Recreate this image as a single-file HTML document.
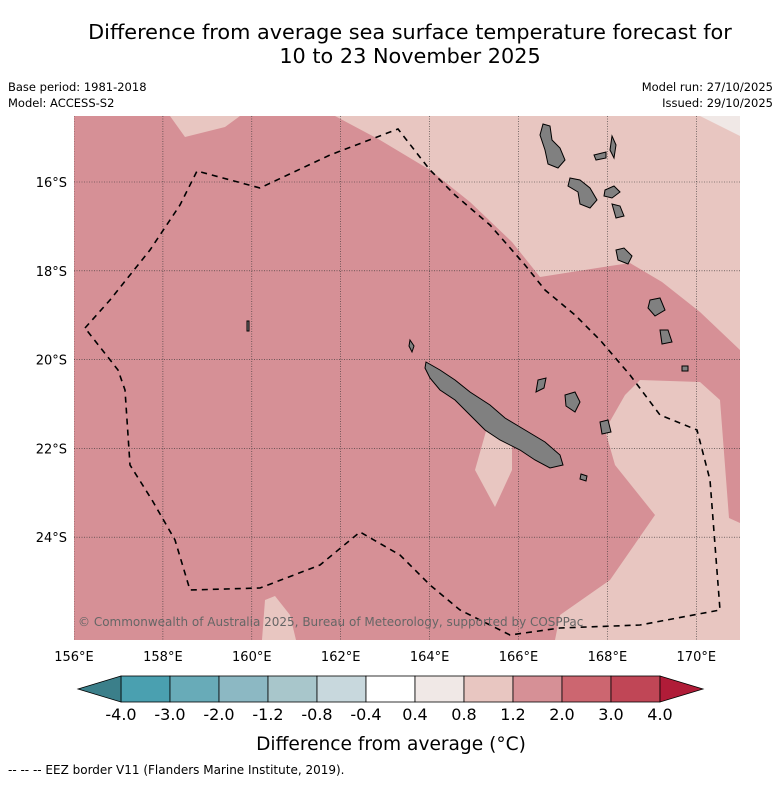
<!DOCTYPE html>
<html><head><meta charset="utf-8"><style>
body{margin:0;background:#fff;font-family:"Liberation Sans","DejaVu Sans",sans-serif;}
svg text{font-family:"DejaVu Sans","Liberation Sans",sans-serif;}
</style></head><body>
<svg id="c" width="781" height="781" viewBox="0 0 781 781" xmlns="http://www.w3.org/2000/svg">
<text x="410" y="39" font-size="20.8" text-anchor="middle">Difference from average sea surface temperature forecast for</text>
<text x="410" y="63" font-size="20.8" text-anchor="middle">10 to 23 November 2025</text>
<text x="8" y="91" font-size="11.5">Base period: 1981-2018</text>
<text x="8" y="107" font-size="11.5">Model: ACCESS-S2</text>
<text x="773" y="91" font-size="11.5" text-anchor="end">Model run: 27/10/2025</text>
<text x="773" y="107" font-size="11.5" text-anchor="end">Issued: 29/10/2025</text>
<defs><clipPath id="mc"><rect x="74" y="116" width="666" height="524"/></clipPath></defs>
<g clip-path="url(#mc)">
<rect x="74" y="116" width="666" height="524" fill="#d69096"/>
<polygon points="170,116 185,137 225,127 240,116" fill="#e8c6c1"/>
<polygon points="335,116 740,116 740,350 700,312 662,282 630,263 610,266 540,277 512,242 470,202 430,170 380,140" fill="#e8c6c1"/>
<polygon points="700,116 740,116 740,136" fill="#f0e8e6"/>
<polygon points="740,523 729,518 720,400 700,382 640,380 625,395 605,430 615,465 655,515 610,580 560,615 555,640 740,640" fill="#e8c6c1"/>
<polygon points="475,470 492,410 512,425 512,470 495,507" fill="#e8c6c1"/>
<polygon points="262,640 265,600 275,596 290,615 296,640" fill="#e8c6c1"/>
<g stroke="#333" stroke-width="0.6" stroke-dasharray="1,1.5" id="grid"></g>
<g fill="#808080" stroke="#000" stroke-width="1">
<polygon points="426,362 440,370 455,380 470,392 490,405 505,418 525,430 545,442 560,455 563,465 550,468 535,460 520,450 500,440 485,430 470,415 455,400 440,390 430,378 425,368"/>
<polygon points="410,340 414,346 412,352 409,346"/>
<polygon points="581,474 587,476 586,481 580,479"/>
<polygon points="538,380 546,378 544,388 536,392"/>
<polygon points="565,395 575,392 580,402 575,412 566,406"/>
<polygon points="600,422 608,420 611,432 602,434"/>
<polygon points="543,124 550,126 552,140 560,148 565,160 558,168 548,164 545,150 540,135"/>
<polygon points="612,136 616,145 614,158 610,150"/>
<polygon points="594,155 606,152 606,158 596,160"/>
<polygon points="570,178 580,180 590,188 597,200 590,208 580,204 578,192 568,186"/>
<polygon points="605,190 614,186 620,192 612,198 604,196"/>
<polygon points="612,204 620,206 624,216 616,218"/>
<polygon points="616,250 624,248 632,256 628,264 618,260"/>
<polygon points="650,300 660,298 665,310 655,316 648,308"/>
<polygon points="660,330 668,330 672,342 662,344"/>
<polygon points="682,366 688,366 688,371 682,371"/>
<polygon points="247,321 249,321 249,331 247,331"/>
</g>
<polyline fill="none" stroke="#000" stroke-width="1.6" stroke-dasharray="6,5" points="85,328 110,300 150,250 180,205 197,171 260,188 330,155 398,129 430,170 455,195 490,225 525,265 545,290 575,315 600,340 630,375 660,415 697,430 710,480 720,610 640,625 560,628 510,635 460,610 430,585 400,555 360,532 320,565 260,588 190,590 175,540 152,500 130,465 125,390 118,370 85,328"/>
<text x="78" y="626" font-size="12" fill="#666">© Commonwealth of Australia 2025, Bureau of Meteorology, supported by COSPPac</text>
</g>
<g id="axes"></g>
<g id="cbar"></g>
<text x="391" y="750" font-size="18.6" text-anchor="middle">Difference from average (°C)</text>
<text x="8" y="774" font-size="12">--  --  -- EEZ border V11 (Flanders Marine Institute, 2019).</text>
</svg>
<script>
const lonTicks=[156,158,160,162,164,166,168,170];
const latTicks=[16,18,20,22,24];
const levels=[-4.0,-3.0,-2.0,-1.2,-0.8,-0.4,0.4,0.8,1.2,2.0,3.0,4.0];
const levelColors=["#4aa0b0","#68abb8","#8cb8c3","#a8c6cb","#c8d8dd","#ffffff","#f0e8e6","#e8c6c1","#d69096","#cc6670","#c04656"];
const NS="http://www.w3.org/2000/svg";
const x=lon=>74+(lon-156)*44.45;
const y=lat=>182+(lat-16)*44.4;
function mk(t,a,p){const e=document.createElementNS(NS,t);for(const k in a)e.setAttribute(k,a[k]);p.appendChild(e);return e;}
const grid=document.getElementById('grid'),axes=document.getElementById('axes'),cb=document.getElementById('cbar');
lonTicks.forEach(l=>{
 const ln=mk('line',{x1:x(l),x2:x(l),y1:116,y2:640},grid);
 
 
 const t=mk('text',{x:x(l),y:661,'font-size':13,'text-anchor':'middle'},axes);
 t.textContent=l+'°E';
 
 
});
latTicks.forEach(l=>{
 const ln=mk('line',{x1:74,x2:740,y1:y(l),y2:y(l)},grid);
 
 
 const t=mk('text',{x:67,y:y(l)+5,'font-size':13,'text-anchor':'end'},axes);
 t.textContent=l+'°S';
 
 
});
const cx0=121,cw=49,cy=676,ch=26;
levelColors.forEach((c,i)=>{
 const r=mk('rect',{x:cx0+i*cw,y:cy,width:cw,height:ch,fill:c,stroke:'#000','stroke-width':0.8},cb);
 
 
});
const lt=mk('polygon',{points:`${cx0},${cy} 78,${cy+ch/2} ${cx0},${cy+ch}`,fill:'#3b7f8a',stroke:'#000','stroke-width':0.8},cb);


const xe=cx0+levelColors.length*cw;
const rt=mk('polygon',{points:`${xe},${cy} 703,${cy+ch/2} ${xe},${cy+ch}`,fill:'#b01c38',stroke:'#000','stroke-width':0.8},cb);


levels.forEach((v,i)=>{
 const t=mk('text',{x:cx0+i*cw,y:720,'font-size':16,'text-anchor':'middle'},cb);
 t.textContent=v.toFixed(1);
 
 
});
</script>
</body></html>
